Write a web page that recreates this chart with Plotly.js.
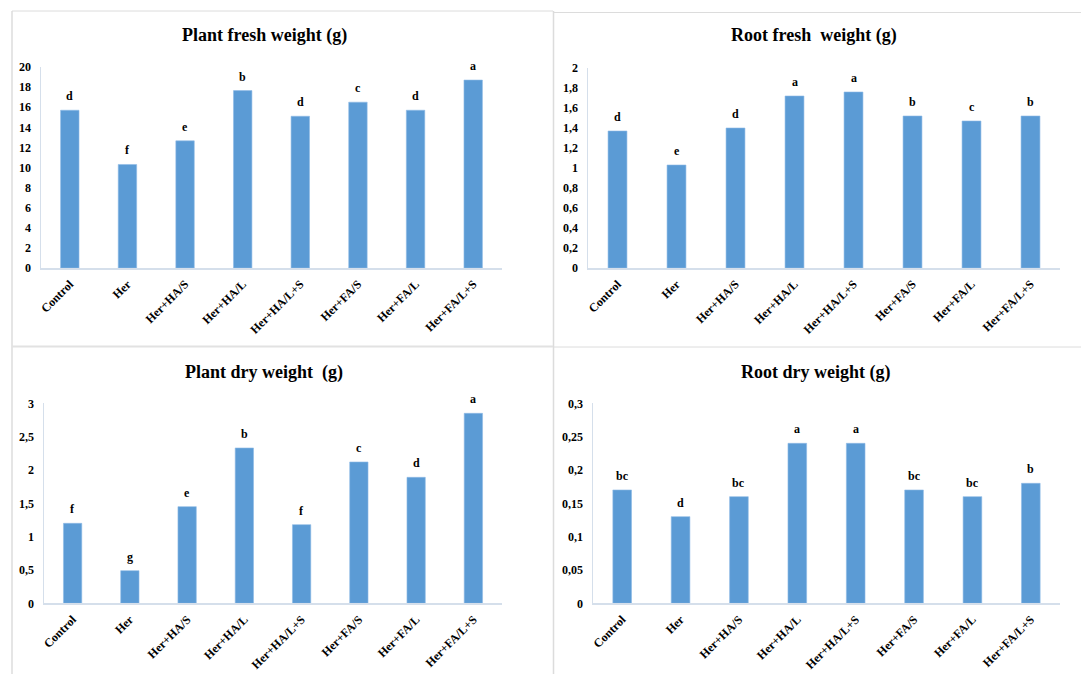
<!DOCTYPE html>
<html>
<head>
<meta charset="utf-8">
<script src="https://cdn.plot.ly/plotly-3.0.1.min.js"></script>
<style>html,body{margin:0;padding:0;background:#fff;}#chart{width:1081px;height:674px;}</style>
</head>
<body>
<div id="chart"></div>
<script>
// ---- data ----
const categories = ["Control","Her","Her+HA/S","Her+HA/L","Her+HA/L+S","Her+FA/S","Her+FA/L","Her+FA/L+S"];

const plantFreshTitle = "Plant fresh weight (g)";
const plantFreshValues = [15.7, 10.3, 12.65, 17.65, 15.1, 16.5, 15.7, 18.7];
const plantFreshLetters = ["d","f","e","b","d","c","d","a"];

const rootFreshTitle = "Root fresh\u00a0 weight (g)";
const rootFreshValues = [1.37, 1.03, 1.40, 1.72, 1.76, 1.52, 1.47, 1.52];
const rootFreshLetters = ["d","e","d","a","a","b","c","b"];

const plantDryTitle = "Plant dry weight\u00a0 (g)";
const plantDryValues = [1.20, 0.49, 1.45, 2.33, 1.18, 2.12, 1.89, 2.85];
const plantDryLetters = ["f","g","e","b","f","c","d","a"];

const rootDryTitle = "Root dry weight (g)";
const rootDryValues = [0.17, 0.13, 0.16, 0.24, 0.24, 0.17, 0.16, 0.18];
const rootDryLetters = ["bc","d","bc","a","a","bc","bc","b"];

// ---- layout helpers ----
const W = 1081, H = 674;
const FONT = "Liberation Serif";
const BAR = "#5b9bd5";
const AXIS_LINE = "#d5dfeb";
const BORDER = "#dcdcdc";

const px = x => x / W;
const py = y => 1 - y / H;

const panels = [
  {title: plantFreshTitle, values: plantFreshValues, letters: plantFreshLetters,
   x: [41, 502], y: [67, 268], range: [0, 20], dtick: 2, tx: 264, ty: 36},
  {title: rootFreshTitle, values: rootFreshValues, letters: rootFreshLetters,
   x: [588, 1060], y: [68, 268], range: [0, 2], dtick: 0.2, tx: 814, ty: 36},
  {title: plantDryTitle, values: plantDryValues, letters: plantDryLetters,
   x: [44, 502], y: [403.3, 603.3], range: [0, 3], dtick: 0.5, tx: 264, ty: 372},
  {title: rootDryTitle, values: rootDryValues, letters: rootDryLetters,
   x: [593, 1060], y: [403.3, 603.3], range: [0, 0.3], dtick: 0.05, tx: 815, ty: 372}
];

const traces = [];
const annotations = [];
const layout = {
  width: W, height: H,
  margin: {l: 0, r: 0, t: 0, b: 0, pad: 0},
  paper_bgcolor: "#fff", plot_bgcolor: "#fff",
  showlegend: false,
  separators: ",.",
  font: {family: FONT, color: "#000", size: 12},
  shapes: [
    {type: "line", xref: "paper", yref: "paper", x0: px(12), x1: px(12), y0: py(11), y1: py(674), line: {color: BORDER, width: 1.5}},
    {type: "line", xref: "paper", yref: "paper", x0: px(12), x1: px(553), y0: py(11), y1: py(11), line: {color: BORDER, width: 1}},
    {type: "line", xref: "paper", yref: "paper", x0: px(553.5), x1: px(553.5), y0: py(11), y1: py(674), line: {color: BORDER, width: 1.5}},
    {type: "line", xref: "paper", yref: "paper", x0: px(554), x1: px(1081), y0: py(12.5), y1: py(12.5), line: {color: BORDER, width: 1}},
    {type: "line", xref: "paper", yref: "paper", x0: px(12), x1: px(553), y0: py(346.5), y1: py(346.5), line: {color: "#e2e2e2", width: 2}},
    {type: "line", xref: "paper", yref: "paper", x0: px(554), x1: px(1081), y0: py(347), y1: py(347), line: {color: BORDER, width: 1}}
  ],
  annotations: annotations
};

panels.forEach((p, i) => {
  const n = i + 1;
  const xa = n === 1 ? "x" : "x" + n;
  const ya = n === 1 ? "y" : "y" + n;
  traces.push({
    type: "bar", x: categories, y: p.values, xaxis: xa, yaxis: ya,
    width: 0.32, marker: {color: BAR, line: {color: "#8fbbe6", width: 0.6}},
    hoverinfo: "x+y"
  });
  layout["xaxis" + (n === 1 ? "" : n)] = {
    domain: [px(p.x[0]), px(p.x[1])], anchor: ya,
    type: "category", range: [-0.5, 7.5],
    showline: true, linecolor: AXIS_LINE, linewidth: 1.5,
    showgrid: false, zeroline: false, ticks: "",
    tickangle: -45, tickfont: {family: FONT, size: 12, color: "#000", weight: "bold"},
    ticklabelstandoff: 3
  };
  layout["yaxis" + (n === 1 ? "" : n)] = {
    domain: [py(p.y[1]), py(p.y[0])], anchor: xa,
    range: p.range, dtick: p.dtick, tick0: 0,
    showline: true, linecolor: AXIS_LINE, linewidth: 1.5,
    showgrid: false, zeroline: false, ticks: "",
    tickfont: {family: FONT, size: 12, color: "#000", weight: "bold"},
    ticklabelstandoff: 6
  };
  annotations.push({
    xref: "paper", yref: "paper", x: px(p.tx), y: py(p.ty),
    xanchor: "center", yanchor: "middle", showarrow: false,
    text: "<b>" + p.title + "</b>", font: {family: FONT, size: 18, color: "#000"}
  });
  p.letters.forEach((t, k) => {
    annotations.push({
      xref: xa, yref: ya, x: categories[k], y: p.values[k],
      xanchor: "center", yanchor: "bottom", yshift: 5, showarrow: false,
      text: "<b>" + t + "</b>", font: {family: FONT, size: 12, color: "#000"}
    });
  });
});

Plotly.newPlot("chart", traces, layout, {displayModeBar: false, staticPlot: true});
</script>
</body>
</html>
